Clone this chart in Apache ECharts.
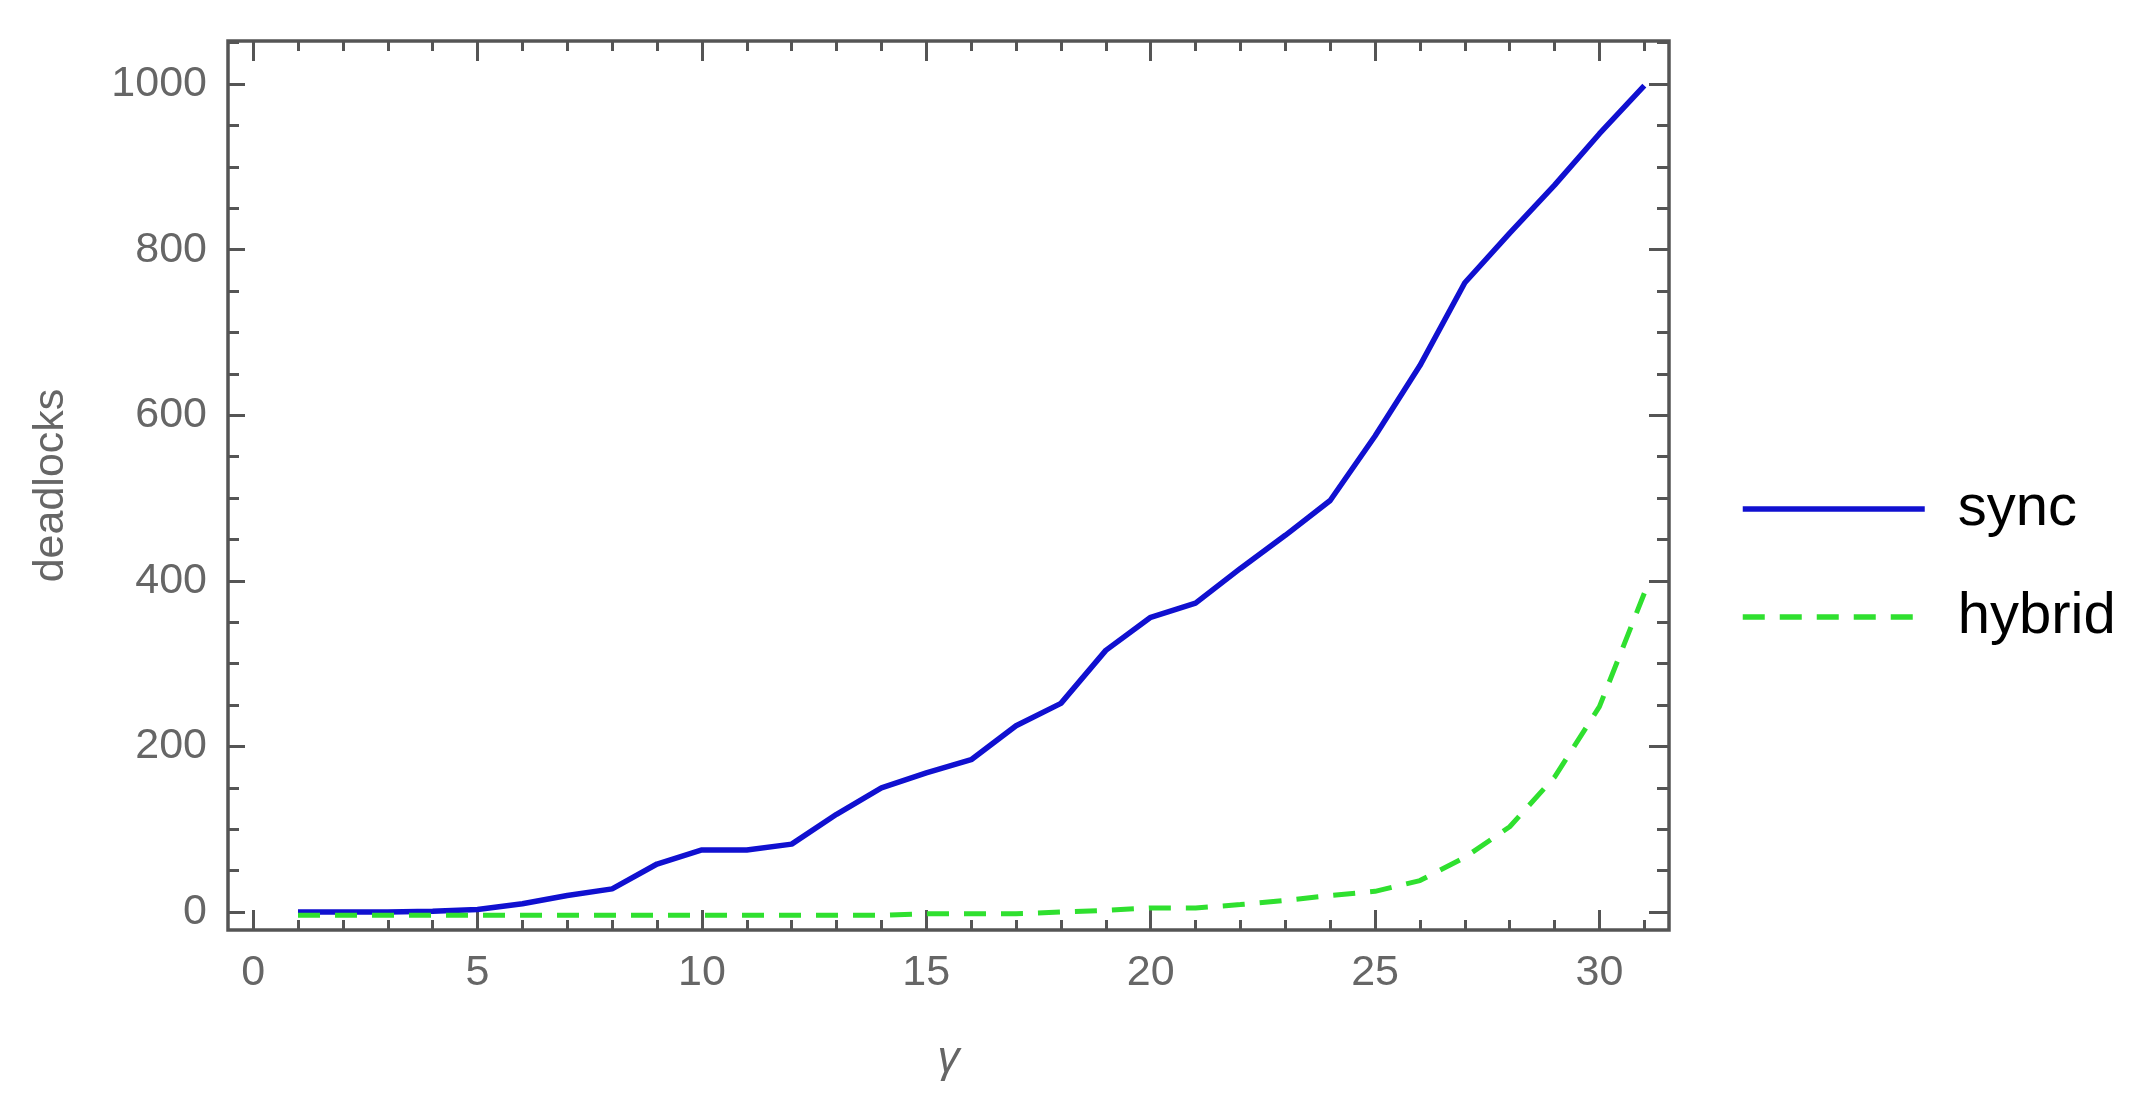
<!DOCTYPE html>
<html>
<head>
<meta charset="utf-8">
<title>deadlocks vs gamma</title>
<script src="https://cdn.jsdelivr.net/npm/echarts@6.0.0/dist/echarts.min.js"></script>
<style>
  html, body { margin: 0; padding: 0; background: #fff; }
  #chart { width: 2142px; height: 1112px; }
</style>
</head>
<body>
<div id="chart"></div>
<script>
// gamma on the x axis, deadlocks counted for each run
const gammaValues = [1, 2, 3, 4, 5, 6, 7, 8, 9, 10, 11, 12, 13, 14, 15, 16,
  17, 18, 19, 20, 21, 22, 23, 24, 25, 26, 27, 28, 29, 30, 31];
const syncDeadlocks = [0, 0, 0, 1, 3, 10, 20, 28, 58, 75, 75, 82, 118, 150, 168, 184,
  225, 252, 316, 356, 373, 415, 455, 497, 575, 660, 760, 820, 878, 940, 998];
const hybridDeadlocks = [-4, -4, -4, -4, -4, -4, -4, -4, -4, -4, -4, -4, -4, -4, -2, -2,
  -2, 0, 2, 5, 5, 9, 14, 20, 25, 38, 66, 103, 163, 248, 385];

// tick marks (frame ticks on all four sides)
const xMajorTicks = [0, 5, 10, 15, 20, 25, 30];
const xMinorTicks = [0, 1, 2, 3, 4, 5, 6, 7, 8, 9, 10, 11, 12, 13, 14, 15, 16,
  17, 18, 19, 20, 21, 22, 23, 24, 25, 26, 27, 28, 29, 30, 31];
const yMajorTicks = [0, 200, 400, 600, 800, 1000];
const yMinorTicks = [0, 50, 100, 150, 200, 250, 300, 350, 400, 450, 500, 550, 600,
  650, 700, 750, 800, 850, 900, 950, 1000, 1050];

const X_MIN = -0.56, X_MAX = 31.55;
const Y_MIN = -21.7, Y_MAX = 1052;

const FONT = 'Liberation Sans';
const FRAME = '#555555';
const LABEL = '#666666';
const BLUE = '#1010d0';
const GREEN = '#2fe02f';

const chart = echarts.init(document.getElementById('chart'));

// build one frame axis (ticks only, or ticks + labels)
function xAx(pos, ticks, len, labels) {
  return {
    type: 'value', position: pos, min: X_MIN, max: X_MAX,
    axisLine: { show: false, onZero: false },
    splitLine: { show: false },
    axisTick: { show: true, inside: true, length: len, customValues: ticks,
      lineStyle: { color: FRAME, width: 3 } },
    axisLabel: labels ? { show: true, customValues: labels, margin: 22,
      formatter: v => String(v),
      color: LABEL, fontSize: 43, fontFamily: FONT } : { show: false }
  };
}
function yAx(pos, ticks, len, labels) {
  return {
    type: 'value', position: pos, min: Y_MIN, max: Y_MAX,
    axisLine: { show: false, onZero: false },
    splitLine: { show: false },
    axisTick: { show: true, inside: true, length: len, customValues: ticks,
      lineStyle: { color: FRAME, width: 3 } },
    axisLabel: labels ? { show: true, customValues: labels, margin: 21,
      formatter: v => String(v),
      color: LABEL, fontSize: 43, fontFamily: FONT } : { show: false }
  };
}

const xMain = xAx('bottom', xMajorTicks, 20, xMajorTicks);
xMain.name = 'γ';
xMain.nameLocation = 'middle';
xMain.nameGap = 108;
xMain.nameTextStyle = { color: LABEL, fontSize: 44, fontStyle: 'italic', fontFamily: FONT };

const yMain = yAx('left', yMajorTicks, 17, yMajorTicks);
yMain.name = 'deadlocks';
yMain.nameLocation = 'middle';
yMain.nameGap = 155;
yMain.nameTextStyle = { color: LABEL, fontSize: 43, fontFamily: FONT };

const option = {
  backgroundColor: '#ffffff',
  animation: false,
  grid: {
    left: 228, right: 473, top: 41, bottom: 182,
    show: true, borderColor: FRAME, borderWidth: 3.5, backgroundColor: 'transparent'
  },
  xAxis: [
    xMain,
    xAx('bottom', xMinorTicks, 10),
    xAx('top', xMajorTicks, 20),
    xAx('top', xMinorTicks, 10)
  ],
  yAxis: [
    yMain,
    yAx('left', yMinorTicks, 11),
    yAx('right', yMajorTicks, 20),
    yAx('right', yMinorTicks, 12)
  ],
  legend: {
    data: ['sync', 'hybrid'],
    orient: 'vertical',
    left: 1740, top: 479,
    padding: 0,
    itemWidth: 182, itemHeight: 14, itemGap: 48,
    selectedMode: false,
    itemStyle: { opacity: 0, color: 'rgba(0,0,0,0)', borderColor: 'rgba(0,0,0,0)', borderWidth: 0 },
    lineStyle: { width: 5.5 },
    textStyle: { color: '#000', fontSize: 58, fontFamily: FONT, lineHeight: 60,
      padding: [0, 0, 0, 28] }
  },
  series: [
    {
      name: 'sync', type: 'line', symbol: 'none',
      xAxisIndex: 0, yAxisIndex: 0,
      data: gammaValues.map((g, i) => [g, syncDeadlocks[i]]),
      lineStyle: { color: BLUE, width: 5.5 },
      itemStyle: { color: BLUE }
    },
    {
      name: 'hybrid', type: 'line', symbol: 'none',
      xAxisIndex: 0, yAxisIndex: 0,
      data: gammaValues.map((g, i) => [g, hybridDeadlocks[i]]),
      lineStyle: { color: GREEN, width: 5, type: [22, 15] },
      itemStyle: { color: GREEN }
    }
  ]
};

chart.setOption(option);
</script>
</body>
</html>
